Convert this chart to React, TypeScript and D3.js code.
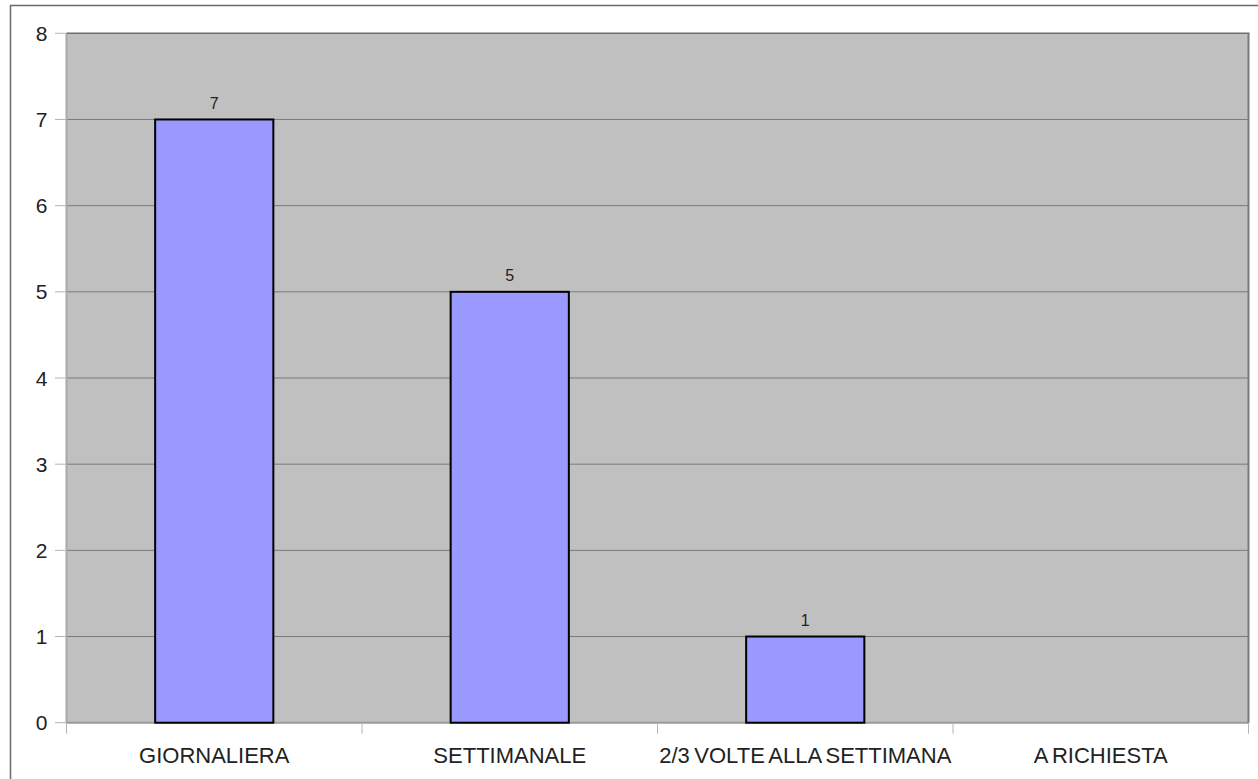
import React from "react";
import * as d3 from "d3";

const categories = ["GIORNALIERA", "SETTIMANALE", "2/3 VOLTE ALLA SETTIMANA", "A RICHIESTA"];
const values: (number | null)[] = [7, 5, 1, null];
const yTicks = [0, 1, 2, 3, 4, 5, 6, 7, 8];

const W = 1258;
const H = 779;
const plot = { left: 66.5, right: 1248.5, top: 33.3, bottom: 722.7 };
const font = "'Liberation Sans', Arial, sans-serif";

export default function App() {
  const x = d3.scaleBand<string>().domain(categories).range([plot.left, plot.right]).padding(0);
  const y = d3.scaleLinear().domain([0, 8]).range([plot.bottom, plot.top]);
  const barW = x.bandwidth() * 0.4;
  const boundaries = [...categories.map((c) => x(c)!), plot.right];

  return (
    <svg
      width={W}
      height={H}
      style={{ position: "fixed", left: 0, top: 0, background: "#fff" }}
      fontFamily={font}
    >
      <rect x={10.5} y={5.5} width={1300} height={900} fill="#fff" stroke="#6a6a6a" strokeWidth={1.5} />
      <rect
        x={plot.left}
        y={plot.top}
        width={plot.right - plot.left}
        height={plot.bottom - plot.top}
        fill="#c0c0c0"
      />
      {yTicks
        .filter((t) => t > 0 && t < 8)
        .map((t) => (
          <line key={t} x1={plot.left} x2={plot.right} y1={y(t)} y2={y(t)} stroke="#7a7a7a" strokeWidth={1} />
        ))}
      {/* plot border */}
      <line x1={plot.left} x2={plot.left} y1={plot.top} y2={plot.bottom} stroke="#a8a8a8" strokeWidth={2} />
      <line x1={plot.left} x2={plot.right} y1={plot.bottom} y2={plot.bottom} stroke="#9a9a9a" strokeWidth={2} />
      <line x1={plot.left} x2={plot.right + 1} y1={plot.top} y2={plot.top} stroke="#6e6e6e" strokeWidth={1.5} />
      <line x1={plot.right} x2={plot.right} y1={plot.top} y2={plot.bottom} stroke="#7a7a7a" strokeWidth={2} />
      {/* y ticks */}
      {yTicks.map((t) => (
        <g key={t}>
          <line x1={55} x2={plot.left} y1={y(t)} y2={y(t)} stroke="#b4b4b4" strokeWidth={1} />
          <text x={47.5} y={y(t)} dy="0.36em" textAnchor="end" fontSize={21} fill="#222">
            {t}
          </text>
        </g>
      ))}
      {/* x ticks */}
      {boundaries.map((b, i) => (
        <line key={i} x1={b} x2={b} y1={plot.bottom} y2={plot.bottom + 11} stroke="#b4b4b4" strokeWidth={1} />
      ))}
      {/* bars */}
      {categories.map((c, i) => {
        const v = values[i];
        if (v == null) return null;
        const cx = x(c)! + x.bandwidth() / 2;
        return (
          <g key={c}>
            <rect
              x={cx - barW / 2}
              y={y(v)}
              width={barW}
              height={y(0) - y(v)}
              fill="#9999ff"
              stroke="#000"
              strokeWidth={2}
            />
            <text x={cx} y={y(v) - 10.5} textAnchor="middle" fontSize={16} fill="#222">
              {v}
            </text>
          </g>
        );
      })}
      {/* category labels */}
      {categories.map((c) => (
        <text
          key={c}
          x={x(c)! + x.bandwidth() / 2}
          y={762.5}
          textAnchor="middle"
          fontSize={22}
          wordSpacing={-1.5}
          fill="#222"
        >
          {c}
        </text>
      ))}
    </svg>
  );
}
